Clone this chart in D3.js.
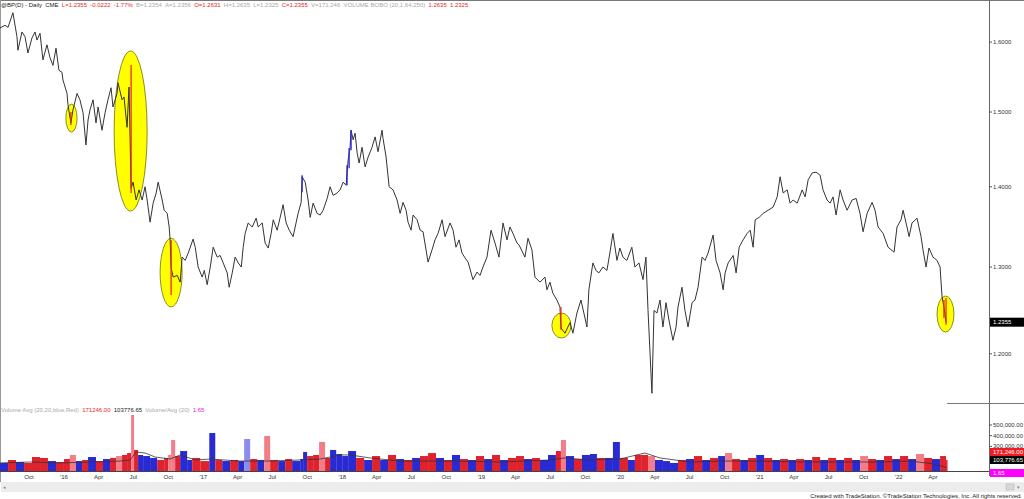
<!DOCTYPE html>
<html>
<head>
<meta charset="utf-8">
<script src="https://cdn.jsdelivr.net/npm/d3@7"></script>
<style>
  body { margin: 0; background: #fff; }
  svg { display: block; font-family: "Liberation Sans", Arial, sans-serif; }
</style>
</head>
<body>
<div id="chart"></div>
<script>
// ---- data (time as decimal year) ----

// close line, [year, price]
const closes = [
  [2015.540,1.621],[2015.576,1.625],[2015.598,1.622],[2015.633,1.644],[2015.662,1.608],[2015.669,1.588],
  [2015.698,1.615],[2015.720,1.608],[2015.741,1.584],[2015.770,1.606],[2015.792,1.615],[2015.806,1.603],
  [2015.828,1.613],[2015.849,1.574],[2015.878,1.596],[2015.900,1.577],[2015.921,1.566],[2015.943,1.591],
  [2015.964,1.559],[2015.986,1.556],[2015.993,1.545],[2016.022,1.526],[2016.029,1.510],[2016.050,1.485],
  [2016.065,1.503],[2016.094,1.526],[2016.115,1.517],[2016.137,1.499],[2016.158,1.455],[2016.173,1.489],
  [2016.187,1.503],[2016.209,1.517],[2016.230,1.485],[2016.245,1.507],[2016.273,1.475],[2016.295,1.499],
  [2016.316,1.517],[2016.338,1.534],[2016.352,1.507],[2016.381,1.526],[2016.388,1.541],[2016.417,1.517],
  [2016.431,1.521],[2016.453,1.479],[2016.467,1.535],[2016.482,1.398],[2016.496,1.406],[2016.518,1.383],
  [2016.539,1.396],[2016.561,1.383],[2016.582,1.400],[2016.597,1.383],[2016.618,1.355],[2016.640,1.379],
  [2016.662,1.392],[2016.676,1.406],[2016.705,1.383],[2016.719,1.370],[2016.741,1.366],[2016.755,1.349],
  [2016.762,1.333],[2016.769,1.299],[2016.784,1.288],[2016.813,1.290],[2016.834,1.282],[2016.848,1.312],
  [2016.870,1.308],[2016.892,1.317],[2016.927,1.334],[2016.942,1.324],[2016.963,1.300],[2016.992,1.288],
  [2017.007,1.296],[2017.028,1.279],[2017.050,1.300],[2017.071,1.324],[2017.100,1.312],[2017.121,1.314],
  [2017.143,1.305],[2017.172,1.293],[2017.186,1.276],[2017.208,1.293],[2017.229,1.312],[2017.251,1.305],
  [2017.273,1.300],[2017.287,1.324],[2017.301,1.341],[2017.323,1.354],[2017.352,1.349],[2017.380,1.360],
  [2017.395,1.349],[2017.424,1.354],[2017.445,1.329],[2017.467,1.323],[2017.488,1.341],[2017.503,1.358],
  [2017.531,1.345],[2017.553,1.361],[2017.574,1.377],[2017.596,1.354],[2017.618,1.345],[2017.646,1.337],
  [2017.661,1.349],[2017.682,1.366],[2017.704,1.380],[2017.711,1.413],[2017.733,1.406],[2017.754,1.383],
  [2017.769,1.361],[2017.790,1.379],[2017.819,1.366],[2017.841,1.364],[2017.862,1.370],[2017.891,1.385],
  [2017.912,1.400],[2017.934,1.389],[2017.963,1.392],[2017.984,1.396],[2018.006,1.406],[2018.027,1.402],
  [2018.042,1.435],[2018.056,1.452],[2018.063,1.475],[2018.078,1.462],[2018.092,1.471],[2018.107,1.444],
  [2018.121,1.431],[2018.142,1.452],[2018.164,1.426],[2018.186,1.439],[2018.214,1.452],[2018.236,1.466],
  [2018.257,1.446],[2018.286,1.475],[2018.293,1.464],[2018.315,1.439],[2018.337,1.400],[2018.365,1.396],
  [2018.394,1.383],[2018.416,1.366],[2018.437,1.380],[2018.459,1.370],[2018.473,1.355],[2018.495,1.345],
  [2018.509,1.364],[2018.538,1.358],[2018.560,1.345],[2018.581,1.343],[2018.617,1.306],[2018.646,1.321],
  [2018.667,1.333],[2018.689,1.341],[2018.718,1.358],[2018.739,1.337],[2018.775,1.354],[2018.797,1.345],
  [2018.818,1.324],[2018.840,1.333],[2018.861,1.317],[2018.883,1.311],[2018.905,1.306],[2018.940,1.285],
  [2018.969,1.294],[2018.991,1.290],[2019.012,1.300],[2019.041,1.312],[2019.070,1.345],[2019.099,1.329],
  [2019.127,1.312],[2019.156,1.354],[2019.185,1.333],[2019.206,1.349],[2019.228,1.341],[2019.257,1.329],
  [2019.271,1.327],[2019.314,1.312],[2019.336,1.335],[2019.364,1.321],[2019.386,1.288],[2019.422,1.282],
  [2019.458,1.288],[2019.472,1.273],[2019.494,1.282],[2019.515,1.269],[2019.544,1.261],[2019.566,1.253],
  [2019.573,1.229],[2019.602,1.223],[2019.638,1.235],[2019.659,1.223],[2019.688,1.246],[2019.717,1.261],
  [2019.738,1.246],[2019.760,1.230],[2019.774,1.273],[2019.803,1.305],[2019.825,1.296],[2019.846,1.293],
  [2019.875,1.300],[2019.904,1.296],[2019.925,1.317],[2019.947,1.341],[2019.976,1.308],[2019.997,1.323],
  [2020.019,1.312],[2020.047,1.308],[2020.083,1.324],[2020.105,1.300],[2020.134,1.305],[2020.163,1.285],
  [2020.184,1.312],[2020.199,1.249],[2020.227,1.157],[2020.242,1.249],[2020.263,1.246],[2020.285,1.261],
  [2020.306,1.230],[2020.328,1.258],[2020.349,1.238],[2020.378,1.215],[2020.400,1.230],[2020.414,1.253],
  [2020.443,1.276],[2020.464,1.249],[2020.486,1.230],[2020.515,1.258],[2020.536,1.261],[2020.558,1.276],
  [2020.587,1.312],[2020.608,1.308],[2020.630,1.317],[2020.666,1.339],[2020.687,1.308],[2020.716,1.293],
  [2020.738,1.273],[2020.752,1.293],[2020.774,1.305],[2020.810,1.314],[2020.831,1.293],[2020.853,1.324],
  [2020.881,1.333],[2020.910,1.341],[2020.932,1.345],[2020.953,1.324],[2020.968,1.358],[2020.996,1.361],
  [2021.025,1.366],[2021.061,1.370],[2021.097,1.374],[2021.126,1.387],[2021.147,1.413],[2021.169,1.392],
  [2021.198,1.396],[2021.219,1.379],[2021.241,1.383],[2021.270,1.379],[2021.306,1.396],[2021.327,1.387],
  [2021.349,1.409],[2021.378,1.418],[2021.406,1.419],[2021.435,1.415],[2021.456,1.396],[2021.485,1.383],
  [2021.507,1.379],[2021.528,1.387],[2021.550,1.364],[2021.579,1.396],[2021.600,1.383],[2021.629,1.370],
  [2021.665,1.383],[2021.694,1.385],[2021.722,1.366],[2021.744,1.343],[2021.773,1.366],[2021.809,1.380],
  [2021.830,1.370],[2021.852,1.349],[2021.888,1.341],[2021.924,1.324],[2021.967,1.318],[2021.988,1.349],
  [2022.017,1.358],[2022.032,1.370],[2022.060,1.349],[2022.075,1.337],[2022.096,1.354],[2022.132,1.360],
  [2022.161,1.337],[2022.175,1.321],[2022.197,1.300],[2022.218,1.323],[2022.247,1.312],[2022.276,1.308],
  [2022.298,1.300],[2022.312,1.265],[2022.326,1.253],[2022.341,1.2355]
];

// BOBO painted bars, [year, high, low, kind]
const paintBars = [
  [2016.050,1.500,1.482,"down"],[2016.482,1.5665,1.392,"down"],[2016.769,1.333,1.267,"down"],
  [2017.711,1.415,1.393,"up"],[2018.034,1.428,1.402,"up"],[2018.049,1.451,1.424,"up"],
  [2018.063,1.475,1.448,"up"],[2019.573,1.253,1.227,"down"],[2022.326,1.261,1.240,"down"],
  [2022.341,1.2635,1.2325,"down"]
];

// highlighted events, [yearFrom, yearTo, priceTop, priceBottom]
const highlights = [
  [2016.014,2016.094,1.511,1.4725],
  [2016.360,2016.597,1.587,1.369],
  [2016.690,2016.848,1.335,1.253],
  [2019.508,2019.645,1.246,1.2176],
  [2022.276,2022.398,1.2657,1.2243]
];

// volume, [year, contracts, kind]
const volumes = [
  [2015.540,144000,"up"],[2015.598,172000,"down"],[2015.655,153000,"up"],[2015.713,144000,"down"],
  [2015.770,200000,"down"],[2015.828,191000,"down"],[2015.885,162000,"up"],[2015.943,153000,"down"],
  [2016.000,181000,"down"],[2016.043,219000,"downHi"],[2016.086,162000,"up"],[2016.130,172000,"down"],
  [2016.173,200000,"up"],[2016.230,162000,"down"],[2016.280,181000,"up"],[2016.331,191000,"down"],
  [2016.374,209000,"downHi"],[2016.417,219000,"down"],[2016.453,237000,"down"],[2016.482,594000,"downHi"],
  [2016.503,266000,"down"],[2016.532,219000,"up"],[2016.568,209000,"up"],[2016.618,191000,"up"],
  [2016.669,172000,"down"],[2016.719,191000,"down"],[2016.748,219000,"downHi"],[2016.769,359000,"downHi"],
  [2016.798,209000,"down"],[2016.834,256000,"up"],[2016.884,172000,"up"],[2016.920,191000,"down"],
  [2016.978,162000,"down"],[2017.043,425000,"up"],[2017.086,172000,"down"],[2017.136,162000,"up"],
  [2017.193,172000,"down"],[2017.251,162000,"up"],[2017.294,369000,"upHi"],[2017.337,181000,"down"],
  [2017.388,172000,"up"],[2017.438,397000,"downHi"],[2017.481,172000,"down"],[2017.539,162000,"up"],
  [2017.589,181000,"down"],[2017.639,162000,"up"],[2017.697,181000,"up"],[2017.718,247000,"up"],
  [2017.747,209000,"down"],[2017.790,219000,"down"],[2017.833,341000,"downHi"],[2017.876,191000,"down"],
  [2017.912,266000,"up"],[2017.956,228000,"up"],[2017.999,209000,"up"],[2018.042,256000,"up"],
  [2018.099,191000,"down"],[2018.157,172000,"up"],[2018.214,209000,"down"],[2018.272,172000,"up"],
  [2018.329,219000,"down"],[2018.387,181000,"up"],[2018.444,172000,"down"],[2018.502,191000,"up"],
  [2018.559,209000,"down"],[2018.617,237000,"down"],[2018.674,191000,"up"],[2018.732,172000,"down"],
  [2018.789,219000,"up"],[2018.847,181000,"down"],[2018.904,172000,"up"],[2018.962,209000,"down"],
  [2019.020,181000,"up"],[2019.077,219000,"down"],[2019.135,172000,"up"],[2019.192,191000,"down"],
  [2019.250,209000,"down"],[2019.307,181000,"up"],[2019.365,191000,"down"],[2019.422,172000,"up"],
  [2019.480,219000,"up"],[2019.537,256000,"down"],[2019.573,359000,"downHi"],[2019.609,209000,"up"],
  [2019.667,181000,"down"],[2019.724,219000,"up"],[2019.782,228000,"up"],[2019.832,191000,"down"],
  [2019.889,191000,"up"],[2019.947,341000,"up"],[2019.997,191000,"down"],[2020.055,172000,"up"],
  [2020.105,219000,"down"],[2020.155,219000,"down"],[2020.199,209000,"downHi"],[2020.249,172000,"up"],
  [2020.306,162000,"up"],[2020.357,144000,"up"],[2020.414,172000,"down"],[2020.472,181000,"up"],
  [2020.529,209000,"down"],[2020.587,172000,"up"],[2020.644,191000,"down"],[2020.702,209000,"up"],
  [2020.752,237000,"downHi"],[2020.802,181000,"down"],[2020.860,172000,"up"],[2020.917,191000,"down"],
  [2020.975,219000,"up"],[2021.032,191000,"down"],[2021.090,172000,"up"],[2021.147,181000,"down"],
  [2021.205,172000,"up"],[2021.262,181000,"down"],[2021.320,172000,"up"],[2021.378,200000,"down"],
  [2021.435,172000,"up"],[2021.493,191000,"down"],[2021.550,172000,"up"],[2021.608,191000,"down"],
  [2021.665,172000,"up"],[2021.723,209000,"downHi"],[2021.780,181000,"down"],[2021.838,172000,"up"],
  [2021.895,209000,"down"],[2021.953,181000,"up"],[2022.010,209000,"down"],[2022.068,181000,"up"],
  [2022.125,228000,"downHi"],[2022.183,191000,"down"],[2022.240,181000,"up"],[2022.298,209000,"down"],
  [2022.341,171246,"down"]
];

// 20-day volume average, [year, contracts]
const volumeAvg = [
  [2015.540,144000],[2015.756,153000],[2015.971,144000],[2016.187,153000],[2016.403,162000],
  [2016.475,172000],[2016.518,247000],[2016.582,237500],[2016.654,200000],[2016.762,181000],
  [2016.834,219000],[2016.942,172000],[2017.050,181000],[2017.265,162000],[2017.481,162000],
  [2017.697,172000],[2017.841,181000],[2017.984,219000],[2018.056,219000],[2018.200,191000],
  [2018.416,162000],[2018.775,162000],[2019.135,153000],[2019.494,172000],[2019.602,191000],
  [2019.782,172000],[2019.997,181000],[2020.177,237500],[2020.285,191000],[2020.500,153000],
  [2020.716,162000],[2021.004,162000],[2021.291,153000],[2021.651,153000],[2021.866,153000],
  [2022.082,162000],[2022.226,140000],[2022.341,103776.65]
];

const priceTicks = [1.2, 1.3, 1.4, 1.5, 1.6];
const volumeTicks = [200000, 300000, 400000, 500000];
const lastClose = 1.2355;
const lastVolume = 171246;
const lastAvg = 103776.65;
const volumeRatio = 1.65;

const headerParts = [
  ["@BP(D) - Daily", "name"], ["CME", "name"], ["L=1.2355", "hot"], ["-0.0222", "hot"], ["-1.77%", "hot"],
  ["B=1.2354", "muted"], ["A=1.2356", "muted"], ["O=1.2631", "hot"], ["H=1.2635", "muted"],
  ["L=1.2325", "muted"], ["C=1.2355", "hot"], ["V=171,246", "muted"], ["VOLUME BOBO (20,1.64,250)", "muted"],
  ["1.2635", "hot"], ["1.2325", "hot"]
];
const volumeLegend = [
  ["Volume Avg (20,20,blue,Red)", "muted"], ["171246.00", "hot"], ["103776.65", "name"],
  ["Volume/Avg (20)", "muted"], ["1.65", "ratio"]
];

// ---- layout ----
const W = 1024, H = 499;
const plotRight = 989;
const priceBottom = 403, volBottom = 471;
const fontSize = 6;

const textColor = { name: "#222", hot: "#e3282c", muted: "#a8a8a8", ratio: "#e020e0" };
const volColor = { up: "#2a2ad2", down: "#e0222c", upHi: "#8c8cf0", downHi: "#f27d88" };
const paintColor = { up: "#2323dd", down: "#ee2a1e" };

const yearToDate = t => {
  const y = Math.floor(t);
  const a = Date.UTC(y, 0, 1), b = Date.UTC(y + 1, 0, 1);
  return new Date(a + (t - y) * (b - a));
};

const x = d3.scaleUtc()
  .domain([yearToDate(2015.540), yearToDate(2022.650)])
  .range([0, plotRight]);
const y = d3.scaleLog()
  .domain([1.1467, 1.6634])
  .range([priceBottom, 0]);
const yv = d3.scaleLinear()
  .domain([68750, 706250])
  .range([volBottom, priceBottom]);

const lastDate = yearToDate(closes[closes.length - 1][0]);
const lastX = x(lastDate);

const svg = d3.select("#chart").append("svg")
  .attr("width", W)
  .attr("height", H)
  .style("font-size", fontSize + "px");

// frame
svg.append("line").attr("x1", 0).attr("x2", W).attr("y1", 0.5).attr("y2", 0.5).attr("stroke", "#777");
svg.append("line").attr("x1", 0.5).attr("x2", 0.5).attr("y1", 0).attr("y2", 482).attr("stroke", "#999");
svg.append("line").attr("x1", plotRight + 0.5).attr("x2", plotRight + 0.5)
  .attr("y1", 0).attr("y2", 476).attr("stroke", "#666");
svg.append("line").attr("x1", lastX + 1).attr("x2", W).attr("y1", priceBottom + 0.5).attr("y2", priceBottom + 0.5)
  .attr("stroke", "#777");

// highlight ellipses
svg.append("g").selectAll("ellipse")
  .data(highlights)
  .enter().append("ellipse")
  .attr("cx", d => (x(yearToDate(d[0])) + x(yearToDate(d[1]))) / 2)
  .attr("cy", d => (y(d[2]) + y(d[3])) / 2)
  .attr("rx", d => (x(yearToDate(d[1])) - x(yearToDate(d[0]))) / 2)
  .attr("ry", d => (y(d[3]) - y(d[2])) / 2)
  .attr("fill", "#ffff00")
  .attr("stroke", "#70700a")
  .attr("stroke-width", 0.8);

// close line
const line = d3.line()
  .x(d => x(yearToDate(d[0])))
  .y(d => y(d[1]));
svg.append("path")
  .datum(closes)
  .attr("d", line)
  .attr("fill", "none")
  .attr("stroke", "#333")
  .attr("stroke-width", 1);

// painted bars
svg.append("g").selectAll("line")
  .data(paintBars)
  .enter().append("line")
  .attr("x1", d => x(yearToDate(d[0])))
  .attr("x2", d => x(yearToDate(d[0])))
  .attr("y1", d => y(d[1]))
  .attr("y2", d => y(d[2]))
  .attr("stroke", d => paintColor[d[3]])
  .attr("stroke-width", 1.3);

// price axis
const pAxis = svg.append("g");
pAxis.selectAll("line")
  .data(priceTicks)
  .enter().append("line")
  .attr("x1", plotRight).attr("x2", plotRight + 3)
  .attr("y1", d => y(d)).attr("y2", d => y(d))
  .attr("stroke", "#555");
pAxis.selectAll("text")
  .data(priceTicks)
  .enter().append("text")
  .attr("x", plotRight + 4)
  .attr("y", d => y(d))
  .attr("dy", "0.35em")
  .attr("fill", "#333")
  .text(d3.format(".4f"));

// last close tag
svg.append("rect")
  .attr("x", plotRight + 1).attr("y", y(lastClose) - 4.5)
  .attr("width", W - plotRight - 1).attr("height", 9)
  .attr("fill", "#000");
svg.append("text")
  .attr("x", plotRight + 4).attr("y", y(lastClose)).attr("dy", "0.35em")
  .attr("fill", "#fff").text(d3.format(".4f")(lastClose));

// volume bars
const volX = volumes.map(d => x(yearToDate(d[0])));
svg.append("g").selectAll("rect")
  .data(volumes)
  .enter().append("rect")
  .attr("x", (d, i) => volX[i])
  .attr("width", (d, i) => i < volumes.length - 1 ? Math.max(1, volX[i + 1] - volX[i]) : 1.5)
  .attr("y", d => yv(d[1]))
  .attr("height", d => volBottom - yv(d[1]))
  .attr("fill", d => volColor[d[2]]);

// volume average
svg.append("path")
  .datum(volumeAvg)
  .attr("d", d3.line().x(d => x(yearToDate(d[0]))).y(d => yv(d[1])))
  .attr("fill", "none")
  .attr("stroke", "#333")
  .attr("stroke-width", 0.8);

svg.append("line").attr("x1", 0).attr("x2", plotRight).attr("y1", volBottom + 0.5).attr("y2", volBottom + 0.5)
  .attr("stroke", "#444");

// volume axis
const vAxis = svg.append("g");
vAxis.selectAll("line")
  .data(volumeTicks)
  .enter().append("line")
  .attr("x1", plotRight).attr("x2", plotRight + 3)
  .attr("y1", d => yv(d)).attr("y2", d => yv(d))
  .attr("stroke", "#555");
vAxis.selectAll("text")
  .data(volumeTicks)
  .enter().append("text")
  .attr("x", plotRight + 4)
  .attr("y", d => yv(d))
  .attr("dy", "0.35em")
  .attr("fill", "#333")
  .text(d3.format(",.2f"));

// value tags on the volume axis, stacked so they do not overlap
const ratioY = volBottom + 2;
const tags = [
  { v: lastAvg, fill: "#000", label: d3.format(",.2f")(lastAvg) },
  { v: lastVolume, fill: "#ee1c24", label: d3.format(",.2f")(lastVolume) }
];
let ceiling = ratioY - 13;
tags.forEach(t => {
  t.y = Math.min(yv(t.v), ceiling);
  ceiling = t.y - 8;
});
tags.push({ y: ratioY, fill: "#ff00ff", label: d3.format(".2f")(volumeRatio) });
const tagG = svg.append("g").selectAll("g").data(tags).enter().append("g");
tagG.append("rect")
  .attr("x", plotRight + 1).attr("y", d => d.y - 4)
  .attr("width", W - plotRight - 1).attr("height", 8)
  .attr("fill", d => d.fill);
tagG.append("text")
  .attr("x", plotRight + 4).attr("y", d => d.y).attr("dy", "0.35em")
  .attr("fill", "#fff").text(d => d.label);

// date axis, only as far as the data goes
const dateTicks = x.ticks(d3.utcMonth.every(3)).filter(d => x(d) > 5 && d <= lastDate);
svg.append("g").selectAll("text")
  .data(dateTicks)
  .enter().append("text")
  .attr("x", d => x(d))
  .attr("y", 479)
  .attr("text-anchor", "middle")
  .attr("fill", "#333")
  .text(d => d.getUTCMonth() === 0 ? "'" + d3.utcFormat("%y")(d) : d3.utcFormat("%b")(d));

// header + legend text
function flowText(parts, yPos) {
  const t = svg.append("text").attr("x", 1).attr("y", yPos);
  parts.forEach((p, i) => {
    t.append("tspan")
      .attr("dx", i === 0 ? 0 : 3.2)
      .attr("fill", textColor[p[1]])
      .text(p[0]);
  });
}
flowText(headerParts, 7);
flowText(volumeLegend, 412);

// scroll bar strip and footer
svg.append("rect").attr("x", 1).attr("y", 482).attr("width", W - 1).attr("height", 10).attr("fill", "#ececec");
svg.append("text").attr("x", 3).attr("y", 489).attr("fill", "#888").style("font-size", "5px").text("◂");
svg.append("rect").attr("x", 1006).attr("y", 484).attr("width", 8).attr("height", 6)
  .attr("fill", "#d8d8d8").attr("stroke", "#b0b0b0").attr("stroke-width", 0.5);
svg.append("text").attr("x", 1017).attr("y", 489).attr("fill", "#888").style("font-size", "5px").text("▾");
svg.append("text")
  .attr("x", 1022).attr("y", 497.5)
  .attr("text-anchor", "end")
  .attr("fill", "#222")
  .text("Created with TradeStation. \u00A9TradeStation Technologies, Inc. All rights reserved.");
</script>
</body>
</html>
